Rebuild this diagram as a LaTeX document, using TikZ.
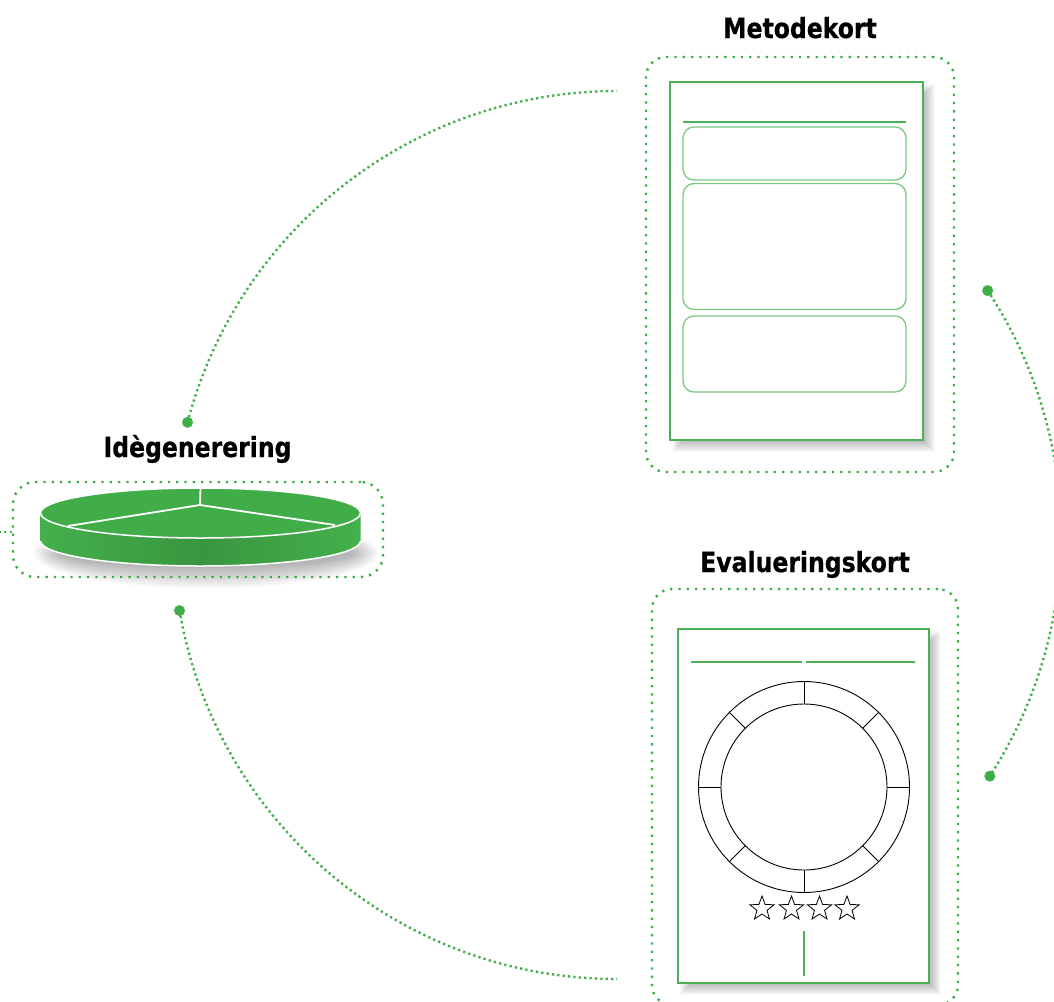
\documentclass[tikz,border=0pt]{standalone}
\usepackage{fontspec}
\newfontfamily\headfont{DejaVu Sans}[FakeStretch=0.85, FakeBold=0.6]
\usetikzlibrary{calc}

\definecolor{dotgreen}{RGB}{63,173,72}
\definecolor{cardgreen}{RGB}{76,176,84}
\definecolor{boxgreen}{RGB}{122,200,130}
\definecolor{pietop}{RGB}{65,173,73}
\definecolor{piedark}{RGB}{57,150,63}
\definecolor{pielight}{RGB}{68,176,76}

\tikzset{
  conn/.style={dotgreen, line width=2.4pt, dash pattern=on 2.2pt off 3.2pt},
  frame/.style={draw=dotgreen, line width=2.4pt, dash pattern=on 2.3pt off 6pt,
                rounded corners=20pt, inner sep=0pt},
  enddot/.style={fill=dotgreen},
  card/.style={draw=cardgreen, line width=1.1pt, fill=white, inner sep=0pt},
  field/.style={draw=boxgreen, line width=1.3pt, rounded corners=11pt, inner sep=0pt},
  rule/.style={draw=cardgreen, line width=1.3pt},
  title/.style={font=\headfont\bfseries\fontsize{27.7}{30}\selectfont,
                anchor=base, inner sep=0pt},
  wheel/.style={draw=black, line width=0.9pt},
  rating/.style={draw=black, line width=0.8pt, fill=white, line join=miter},
}

% soft shadow behind a card given by its corners
\newcommand\cardshadow[4]{%
  \foreach \k in {0,...,10}{%
    \fill[black, opacity=0.024] ({#1+12-\k},{#2+12-\k}) rectangle ({#3+2+\k},{#4+2+\k});}}

% outlined five-point star
\newcommand\ratingstar[2]{%
  \draw[rating] (#1,#2) +(-90:12.7) -- +(-54:5.3) -- +(-18:12.7) -- +(18:5.3)
    -- +(54:12.7) -- +(90:5.3) -- +(126:12.7) -- +(162:5.3) -- +(198:12.7)
    -- +(234:5.3) -- cycle;}

\begin{document}
\begin{tikzpicture}[x=1pt, y=-1pt]
\useasboundingbox (0,0) rectangle (1054,1001);
\clip (0,0) rectangle (1054,1001);
\fill[white] (0,0) rectangle (1054,1001);

% ---------- cycle connectors ----------
\coordinate (hub) at (617,535);
\coordinate (ideOut) at ($(hub)+(-165.3:444)$);
\coordinate (metoOut) at ($(hub)+(-33.4:444)$);
\coordinate (evalIn) at ($(hub)+(32.9:444)$);
\coordinate (ideIn) at ($(hub)+(170.2:444)$);

\draw[conn] (ideOut) arc[start angle=-165.3, end angle=-90, radius=444] coordinate (metoIn);
\draw[conn] (metoOut) arc[start angle=-33.4, end angle=32.9, radius=444];
\draw[conn] (ideIn) arc[start angle=170.2, end angle=90, radius=444] coordinate (evalOut);
\foreach \p in {ideOut, metoOut, evalIn, ideIn}
  \fill[enddot] (\p) circle[radius=5.5];

% ---------- Metodekort ----------
\node[title] (metoTitle) at (800,38) {Metodekort};
\node[frame, minimum width=308pt, minimum height=415pt] (metoFrame) at (800,264.5) {};
\cardshadow{670}{82}{923}{440}
\node[card, minimum width=253pt, minimum height=358pt] (metoCard) at (796.5,261) {};
\draw[cardgreen, line width=2.8pt] (683,122) -- (906,122);
\node[field, minimum width=223pt, minimum height=53pt]  (metoField1) at (794.5,153.5) {};
\node[field, minimum width=223pt, minimum height=126pt] (metoField2) at (794.5,246.5) {};
\node[field, minimum width=223pt, minimum height=76pt]  (metoField3) at (794.5,354) {};

% ---------- Evalueringskort ----------
\node[title] (evalTitle) at (805,572) {Evalueringskort};
\node[frame, minimum width=306pt, minimum height=416pt] (evalFrame) at (805,797) {};
\cardshadow{678}{629}{929}{983}
\node[card, minimum width=251pt, minimum height=354pt] (evalCard) at (803.5,806) {};
\draw[rule] (691,662) -- (802,662);
\draw[rule] (806,662) -- (915,662);
\coordinate (wheelC) at (804,787);
\draw[wheel] (wheelC) circle[radius=105.5];
\draw[wheel] (wheelC) circle[radius=83];
\foreach \a in {0,45,...,315}
  \draw[wheel] ($(wheelC)+(\a:83)$) -- ($(wheelC)+(\a:105.5)$);
\ratingstar{847}{908.7}
\ratingstar{819.5}{908.7}
\ratingstar{791.5}{908.7}
\ratingstar{762}{908.7}
\draw[rule] (804,931) -- (804,976);

% ---------- Idègenerering ----------
\node[title] (ideTitle) at (197.5,457) {Idègenerering};
\foreach \k in {0,...,12}
  \fill[black, opacity=0.024] (206,553) ellipse[x radius={146+2.2*\k}, y radius={15+1.7*\k}];
\node[frame, rounded corners=22pt, minimum width=370pt, minimum height=95pt] (ideFrame) at (198,529.5) {};
\coordinate (leftEdge) at (0,532);
\draw[conn] (ideFrame.west |- leftEdge) -- (leftEdge);

% pie body
\coordinate (pieC) at (200.5,513);
\path[left color=pielight, right color=pielight, middle color=piedark]
  (40.5,513) -- (40.5,541) arc[start angle=180, end angle=0, x radius=160, y radius=25]
  -- (360.5,513) arc[start angle=0, end angle=180, x radius=160, y radius=25] -- cycle;
\draw[white, line width=1.5pt]
  (40.5,541) arc[start angle=180, end angle=0, x radius=160, y radius=25];
\draw[white, line width=1.5pt, fill=pietop] (pieC) ellipse[x radius=160, y radius=25];
\draw[white, line width=1.8pt] (200.5,488) -- (200,505) -- (68,526);
\draw[white, line width=1.8pt] (200,505) -- (335,525);

\end{tikzpicture}
\end{document}
